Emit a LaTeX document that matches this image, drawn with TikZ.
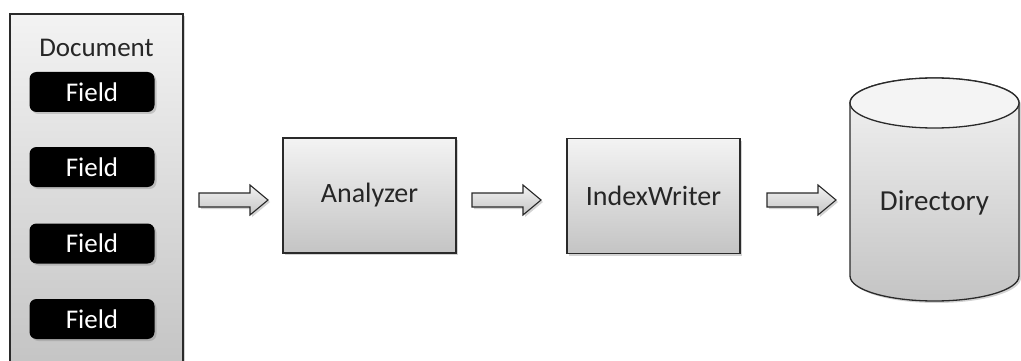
\documentclass[tikz,border=0pt]{standalone}
\usepackage{fontspec}
\setmainfont{Carlito}
\usetikzlibrary{shadows}
\definecolor{boxtop}{HTML}{F3F3F3}
\definecolor{boxbot}{HTML}{C4C4C4}
\definecolor{edge}{HTML}{2A2A2A}
\definecolor{ink}{HTML}{262626}
\definecolor{lidfill}{HTML}{F4F4F4}
\begin{document}
\begin{tikzpicture}[x=1pt,y=-1pt,
  softshadow/.style={drop shadow={opacity=0.35,shadow xshift=2pt,shadow yshift=-2pt}},
  panel/.style={draw=edge,line width=1.3pt,top color=boxtop,bottom color=boxbot,softshadow},
  stage/.style={panel,minimum width=173pt,minimum height=115pt,inner sep=0pt,
    text=ink,font=\fontsize{28}{32}\selectfont},
  fieldbox/.style={fill=black,rounded corners=7pt,minimum width=125pt,minimum height=40pt,
    inner sep=0pt,text=white,font=\fontsize{27}{30}\selectfont,softshadow},
  flow/.style={draw=edge,line width=1.1pt,top color=boxtop,bottom color=boxbot,
    line join=miter,softshadow},
  blockarrow/.pic={
    \path[flow] (0,-7) -- (51,-7) -- (51,-15) -- (69,0) -- (51,15) -- (51,7) -- (0,7) -- cycle;
    \coordinate (-tip) at (69,0);
  }
]
\useasboundingbox (0,0) rectangle (1021,361);

% Document with its fields
\node[panel,minimum width=173pt,minimum height=352pt,inner sep=0pt] (doc) at (96.5,190) {};
\node[text=ink,font=\fontsize{27}{30}\selectfont] (doclabel) at (96.5,48) {Document};
\node[fieldbox] (f1) at (92,92) {Field};
\node[fieldbox] (f2) at (92,167) {Field};
\node[fieldbox] (f3) at (92,243.5) {Field};
\node[fieldbox] (f4) at (92,319) {Field};

% Processing stages
\node[stage] (analyzer) at (369.5,195.5) {Analyzer};
\node[stage] (writer) at (653.5,196) {IndexWriter};

% Directory store
\path[draw=edge,line width=1.3pt,top color=boxtop,bottom color=boxbot,softshadow]
  (850,103) -- (850,276) arc[start angle=180,end angle=0,x radius=84.5,y radius=25]
  -- (1019,103) arc[start angle=360,end angle=180,x radius=84.5,y radius=25] -- cycle;
\draw[edge,line width=1.3pt,fill=lidfill] (934.5,103) ellipse[x radius=84.5,y radius=25];
\node[text=ink,font=\fontsize{29}{32}\selectfont] (dir) at (934.5,203) {Directory};

% Block arrows between the stages
\pic (a1) at (199,200) {blockarrow};
\pic (a2) at (472,200) {blockarrow};
\pic (a3) at (767,200) {blockarrow};
\end{tikzpicture}
\end{document}
